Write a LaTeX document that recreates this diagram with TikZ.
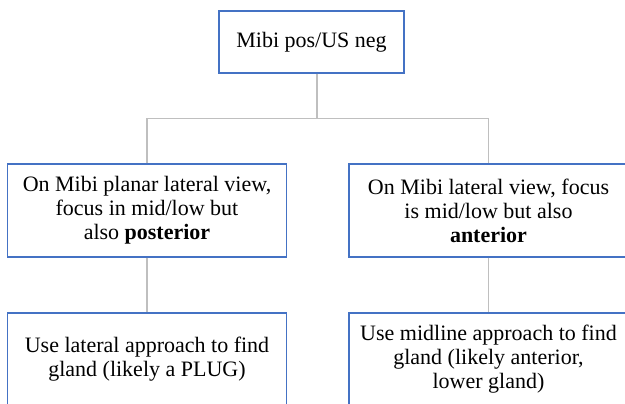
\documentclass[tikz,border=0pt]{standalone}
\usepackage{fontspec}
\setmainfont{Liberation Serif}
\definecolor{boxblue}{HTML}{4472C4}
\definecolor{linegray}{HTML}{BFBFBF}
\tikzset{
  box/.style={draw=boxblue, line width=1.1pt, fill=white, inner sep=0pt, align=center,
    font=\fontsize{22}{24}\selectfont, text=black},
  conn/.style={draw=linegray, line width=1.1pt}
}
\begin{document}
\begin{tikzpicture}[x=1pt,y=-1pt]
\useasboundingbox (0,0) rectangle (625,404);
\coordinate (j) at (317,118.5);
\node[box, minimum width=185pt, minimum height=62pt] (top) at (311.5,42) {Mibi pos/US neg};
\node[box, minimum width=279pt, minimum height=93pt] (L) at (147,210.5)
  {On Mibi planar lateral view,\\ focus in mid/low but\\ also \textbf{posterior}};
\node[box, minimum width=279pt, minimum height=93pt] (R) at (488.5,210.5)
  {On Mibi lateral view, focus\\ is mid/low but also\\ \textbf{anterior}};
\node[box, minimum width=279pt, minimum height=93pt] (LB) at (147,359.5)
  {Use lateral approach to find\\ gland (likely a PLUG)};
\node[box, minimum width=279pt, minimum height=93pt] (RB) at (488.5,359.5)
  {Use midline approach to find\\ gland (likely anterior,\\ lower gland)};
\draw[conn] (j |- top.south) -- (j);
\draw[conn] (L.north) |- (j) -| (R.north);
\draw[conn] (L.south) -- (LB.north);
\draw[conn] (R.south) -- (RB.north);
\end{tikzpicture}
\end{document}
